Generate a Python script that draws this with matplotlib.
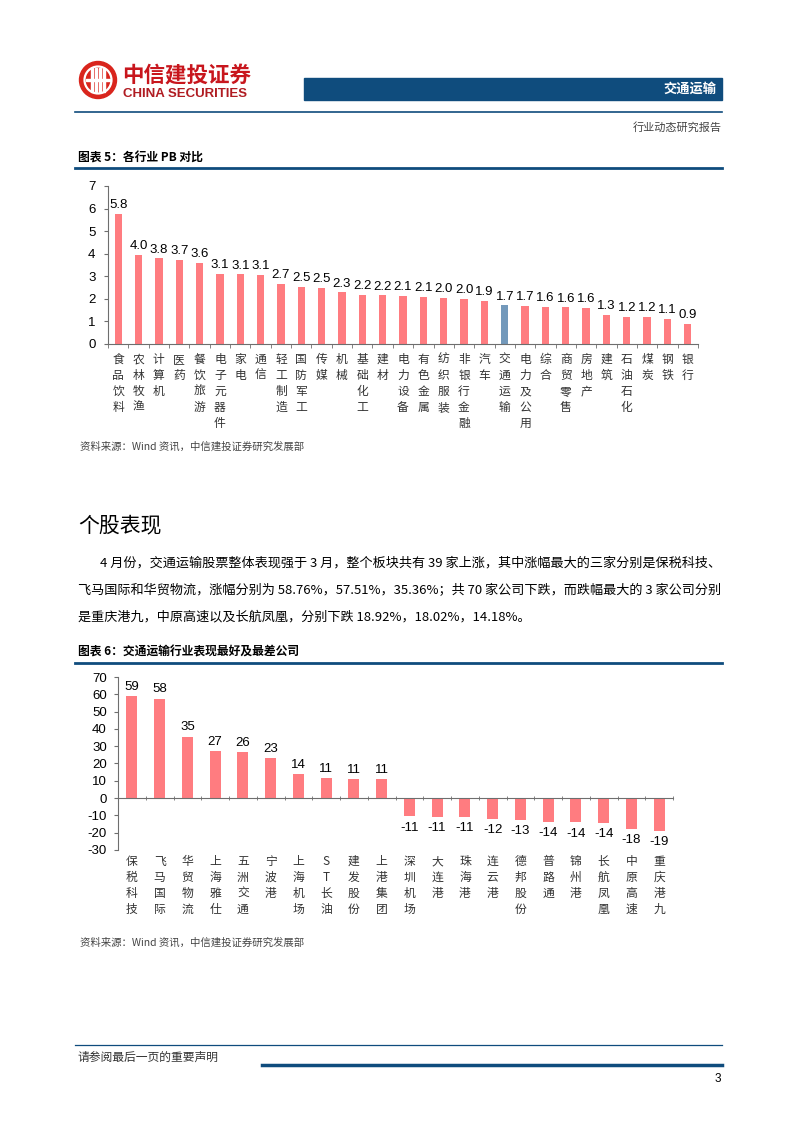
import matplotlib
matplotlib.use("Agg")
import matplotlib.pyplot as plt
import matplotlib.patches as mpatches
import numpy as np

plt.rcParams['font.family'] = ['Noto Sans CJK SC', 'DejaVu Sans']
plt.rcParams['axes.unicode_minus'] = False

W, H = 802, 1133

# ---------------------------------------------------------------- data
pb_industries = ["食品饮料", "农林牧渔", "计算机", "医药", "餐饮旅游", "电子元器件", "家电", "通信",
                 "轻工制造", "国防军工", "传媒", "机械", "基础化工", "建材", "电力设备", "有色金属",
                 "纺织服装", "非银行金融", "汽车", "交通运输", "电力及公用", "综合", "商贸零售",
                 "房地产", "建筑", "石油石化", "煤炭", "钢铁", "银行"]
pb_values = [5.76, 3.96, 3.80, 3.72, 3.60, 3.12, 3.08, 3.07, 2.68, 2.53, 2.48, 2.29, 2.19, 2.16,
             2.13, 2.10, 2.04, 2.01, 1.92, 1.71, 1.68, 1.64, 1.62, 1.60, 1.30, 1.21, 1.19, 1.12, 0.90]
pb_highlight = "交通运输"

stock_names = ["保税科技", "飞马国际", "华贸物流", "上海雅仕", "五洲交通", "宁波港", "上海机场",
               "ST长油", "建发股份", "上港集团", "深圳机场", "大连港", "珠海港", "连云港",
               "德邦股份", "普路通", "锦州港", "长航凤凰", "中原高速", "重庆港九"]
stock_returns = [58.76, 57.51, 35.36, 27.2, 26.5, 23.1, 13.8, 11.4, 11.0, 10.9,
                 -10.6, -10.7, -11.0, -11.8, -12.6, -13.8, -14.0, -14.18, -18.02, -18.92]

paragraph_lines = [
    "4 月份，交通运输股票整体表现强于 3 月，整个板块共有 39 家上涨，其中涨幅最大的三家分别是保税科技、",
    "飞马国际和华贸物流，涨幅分别为 58.76%，57.51%，35.36%；共 70 家公司下跌，而跌幅最大的 3 家公司分别",
    "是重庆港九，中原高速以及长航凤凰，分别下跌 18.92%，18.02%，14.18%。",
]

# ---------------------------------------------------------------- colours
NAVY = "#0f4c7d"
BAR = "#ff7c80"
BAR_HI = "#7399bb"
AXIS = "#6e6e6e"
NUM_FONT = ['Liberation Sans', 'Noto Sans CJK SC']


def px_axes(fig, x0, y0, x1, y1):
    return fig.add_axes([x0 / W, 1 - y1 / H, (x1 - x0) / W, (y1 - y0) / H])


def vertical(s):
    return "\n".join(list(s))


fig = plt.figure(figsize=(W / 100, H / 100), dpi=100, facecolor='w')

# page layer in pixel coordinates
page = fig.add_axes([0, 0, 1, 1])
page.set_xlim(0, W)
page.set_ylim(H, 0)
page.axis('off')

# logo
page.add_patch(mpatches.Circle((98, 80), 18.5, color="#d9251d"))
page.add_patch(mpatches.Circle((98, 80), 13.5, fill=False, ec='w', lw=1.6))
for dx in (-6, -2, 2, 6):
    page.add_patch(mpatches.Rectangle((98 + dx - 1, 68), 2, 24, color='w'))
page.add_patch(mpatches.Rectangle((86, 79), 24, 2, color='w'))
page.text(122, 75, "中信建投证券", fontsize=15.5, fontweight='bold', color="#c8161d", va='center')
page.text(123, 94, "CHINA SECURITIES", fontsize=9.5, fontweight='bold', color="#b01c22",
          va='center', family=NUM_FONT)

# header bar
page.add_patch(mpatches.Rectangle((304, 78), 418, 22, color=NAVY))
page.text(716, 89, "交通运输", fontsize=9.5, fontweight='bold', color='w', ha='right', va='center')
page.plot([75, 722], [112, 112], color=NAVY, lw=1.2)
page.text(722, 127, "行业动态研究报告", fontsize=8, color="#444444", ha='right', va='center')

# chart 5 title
page.text(78, 158, "图表 5：各行业 PB 对比", fontsize=8.5, fontweight='bold', va='center')
page.plot([75, 722], [168, 168], color=NAVY, lw=2.0)

# ---------------------------------------------------------------- chart 5
ax1 = px_axes(fig, 108, 186, 698, 344)
x1 = np.arange(len(pb_values))
colors1 = [BAR_HI if n == pb_highlight else BAR for n in pb_industries]
ax1.bar(x1, pb_values, width=0.36, color=colors1)
ax1.set_xlim(-0.5, len(pb_values) - 0.5)
ax1.set_ylim(0, 7)
ax1.set_yticks(range(0, 8))
for sp in ("top", "right"):
    ax1.spines[sp].set_visible(False)
for sp in ("left", "bottom"):
    ax1.spines[sp].set_color(AXIS)
    ax1.spines[sp].set_linewidth(0.8)
ax1.set_xticks([])
ax1.set_xticks(np.arange(-0.5, len(pb_values)), minor=True)
ax1.tick_params(axis='x', which='minor', length=3, color=AXIS, direction='out')
ax1.tick_params(axis='y', length=3, color=AXIS, labelsize=9.5, pad=6)
for lbl in ax1.get_yticklabels():
    lbl.set_family(NUM_FONT)
for xi, v in zip(x1, pb_values):
    ax1.text(xi, v + 0.12, "%.1f" % v, ha='center', va='bottom', fontsize=9.5, family=NUM_FONT)
for xi, name in zip(x1, pb_industries):
    ax1.text(xi, -0.4, vertical(name), ha='center', va='top', fontsize=8.5, color="#333333",
             linespacing=1.3)

page.text(80, 447, "资料来源：Wind 资讯，中信建投证券研究发展部", fontsize=7.5, style='italic',
          color="#444444", va='center')

# ---------------------------------------------------------------- text block
page.text(78, 525, "个股表现", fontsize=15, va='center')
page.text(100, 563, paragraph_lines[0], fontsize=9.45, va='center')
page.text(78, 591, paragraph_lines[1], fontsize=9.45, va='center')
page.text(78, 617, paragraph_lines[2], fontsize=9.45, va='center')

page.text(78, 652, "图表 6：交通运输行业表现最好及最差公司", fontsize=8.5, fontweight='bold', va='center')
page.plot([75, 722], [663, 663], color=NAVY, lw=2.0)

# ---------------------------------------------------------------- chart 6
ax2 = px_axes(fig, 118, 677, 673, 850)
x2 = np.arange(len(stock_returns))
ax2.bar(x2, stock_returns, width=0.4, color=BAR)
ax2.set_xlim(-0.5, len(stock_returns) - 0.5)
ax2.set_ylim(-30, 70)
ax2.set_yticks(range(-30, 71, 10))
for sp in ("top", "right"):
    ax2.spines[sp].set_visible(False)
ax2.spines["bottom"].set_position(("data", 0))
for sp in ("left", "bottom"):
    ax2.spines[sp].set_color(AXIS)
    ax2.spines[sp].set_linewidth(0.8)
ax2.set_xticks([])
ax2.set_xticks(np.arange(-0.5, len(stock_returns)), minor=True)
ax2.tick_params(axis='x', which='minor', length=3, color=AXIS, direction='inout')
ax2.tick_params(axis='y', length=3, color=AXIS, labelsize=9.5, pad=5)
for lbl in ax2.get_yticklabels():
    lbl.set_family(NUM_FONT)
for xi, v in zip(x2, stock_returns):
    if v >= 0:
        ax2.text(xi, v + 2, "%d" % round(v), ha='center', va='bottom', fontsize=9.5, family=NUM_FONT)
    else:
        ax2.text(xi, v - 3, "%d" % round(v), ha='center', va='top', fontsize=9.5, family=NUM_FONT)
for xi, name in zip(x2, stock_names):
    ax2.text(xi, -33, vertical(name), ha='center', va='top', fontsize=8.5, color="#333333",
             linespacing=1.3)

page.text(80, 943, "资料来源：Wind 资讯，中信建投证券研究发展部", fontsize=7.5, style='italic',
          color="#444444", va='center')

# ---------------------------------------------------------------- footer
page.plot([75, 722], [1045, 1045], color=NAVY, lw=0.9)
page.text(78, 1057, "请参阅最后一页的重要声明", fontsize=8.5, color="#333333", va='center')
page.plot([262, 722], [1065, 1065], color=NAVY, lw=2.5)
page.text(721, 1079, "3", fontsize=8.5, ha='right', va='center', family=NUM_FONT)

fig.savefig("out.png", dpi=100, facecolor='w')
